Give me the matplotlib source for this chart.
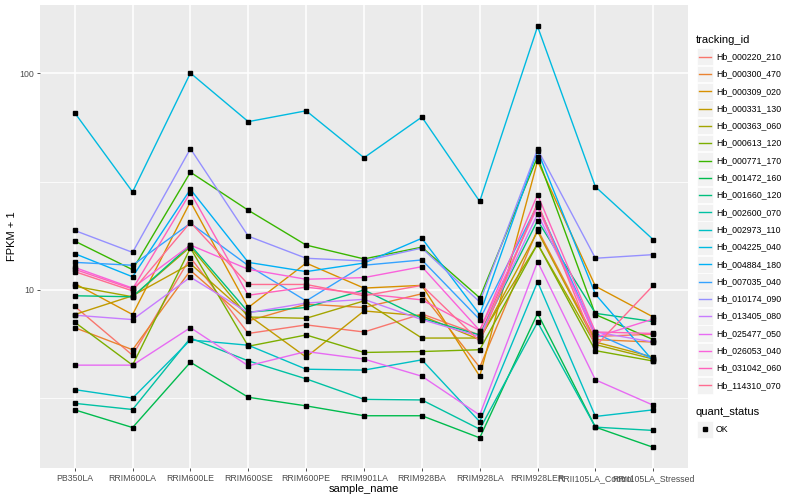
import matplotlib
matplotlib.use("Agg")
import matplotlib.pyplot as plt
from matplotlib.lines import Line2D
from matplotlib.patches import Rectangle
from matplotlib.ticker import FixedLocator, NullFormatter
import numpy as np

plt.rcParams['font.family'] = ['Liberation Sans', 'DejaVu Sans']

samples = ['PB350LA', 'RRIM600LA', 'RRIM600LE', 'RRIM600SE', 'RRIM600PE', 'RRIM901LA',
           'RRIM928BA', 'RRIM928LA', 'RRIM928LER', 'RRII105LA_Control', 'RRII105LA_Stressed']

tracking_ids = ['Hb_000220_210', 'Hb_000300_470', 'Hb_000309_020', 'Hb_000331_130',
                'Hb_000363_060', 'Hb_000613_120', 'Hb_000771_170', 'Hb_001472_160',
                'Hb_001660_120', 'Hb_002600_070', 'Hb_002973_110', 'Hb_004225_040',
                'Hb_004884_180', 'Hb_007035_040', 'Hb_010174_090', 'Hb_013405_080',
                'Hb_025477_050', 'Hb_026053_040', 'Hb_031042_060', 'Hb_114310_070']

# ggplot default hue palette for 20 levels
colours = ['#F8766D', '#EA8331', '#D89000', '#C09B00', '#A3A500', '#7CAE00', '#39B600',
           '#00BB4E', '#00BF7D', '#00C1A3', '#00BFC4', '#00BAE0', '#00B0F6', '#35A2FF',
           '#9590FF', '#C77CFF', '#E76BF3', '#FA62DB', '#FF62BC', '#FF6C91']

# FPKM + 1 per gene, one value per sample
hb_000220_210 = [8.4, 5.0, 14.1, 6.3, 6.9, 6.4, 7.75, 6.2, 24.7, 6.1, 6.25]
hb_000300_470 = [6.7, 5.3, 12.3, 7.2, 8.6, 8.3, 9.6, 4.4, 19.0, 5.9, 5.75]
hb_000309_020 = [10.7, 7.7, 25.5, 8.3, 13.3, 10.2, 10.5, 4.0, 39.3, 10.4, 7.5]
hb_000331_130 = [7.7, 9.4, 13.2, 7.65, 4.9, 8.0, 7.6, 5.9, 18.6, 5.75, 4.9]
hb_000363_060 = [10.4, 9.3, 15.8, 7.5, 7.4, 8.9, 6.0, 6.0, 16.3, 5.6, 4.8]
hb_000613_120 = [7.1, 4.5, 15.6, 5.5, 6.2, 5.15, 5.2, 5.3, 16.3, 5.25, 4.7]
hb_000771_170 = [16.8, 12.4, 34.9, 23.3, 16.1, 13.9, 15.75, 9.2, 41.1, 7.7, 5.9]
hb_001472_160 = [2.8, 2.32, 4.64, 3.2, 2.92, 2.63, 2.63, 2.08, 7.8, 2.33, 1.88]
hb_001660_120 = [9.4, 9.3, 16.1, 7.9, 8.3, 10.0, 7.4, 6.2, 20.9, 7.8, 7.15]
hb_002600_070 = [3.0, 2.81, 6.0, 4.71, 3.89, 3.13, 3.11, 2.28, 7.1, 2.33, 2.25]
hb_002973_110 = [3.47, 3.17, 5.88, 5.56, 4.31, 4.27, 4.76, 2.47, 10.9, 2.61, 2.8]
hb_004225_040 = [65.6, 28.3, 100, 59.7, 67, 40.7, 62.7, 25.6, 164, 29.9, 17.05]
hb_004884_180 = [14.7, 11.5, 29.1, 13.4, 12.15, 13.3, 17.3, 7.7, 43.9, 9.55, 4.7]
hb_007035_040 = [13.4, 13.0, 20.3, 12.95, 8.9, 13.0, 13.75, 7.3, 24.7, 6.3, 4.8]
hb_010174_090 = [18.8, 14.9, 44.8, 17.7, 14.0, 13.6, 15.6, 8.8, 44.5, 14.0, 14.55]
hb_013405_080 = [7.65, 7.3, 11.45, 7.85, 8.7, 9.05, 7.3, 6.1, 22.4, 6.4, 5.75]
hb_025477_050 = [4.5, 4.5, 6.7, 4.47, 5.2, 4.8, 4.0, 2.65, 13.5, 3.85, 2.94]
hb_026053_040 = [12.7, 10.2, 16.1, 12.45, 11.2, 11.4, 12.8, 6.5, 24.1, 6.05, 7.35]
hb_031042_060 = [12.45, 10.1, 28.1, 9.45, 10.3, 9.6, 9.0, 6.5, 27.5, 6.4, 6.3]
hb_114310_070 = [12.15, 9.9, 20.5, 10.6, 10.6, 9.4, 10.5, 5.8, 25.2, 5.5, 10.5]

series = [hb_000220_210, hb_000300_470, hb_000309_020, hb_000331_130, hb_000363_060,
          hb_000613_120, hb_000771_170, hb_001472_160, hb_001660_120, hb_002600_070,
          hb_002973_110, hb_004225_040, hb_004884_180, hb_007035_040, hb_010174_090,
          hb_013405_080, hb_025477_050, hb_026053_040, hb_031042_060, hb_114310_070]

W, H = 800, 500
fig = plt.figure(figsize=(8, 5), dpi=100)
ax = fig.add_axes([40 / W, 32 / H, 648 / W, 463 / H])
ax.set_facecolor('#EBEBEB')

x = np.arange(len(samples))
for vals, col in zip(series, colours):
    ax.plot(x, vals, color=col, lw=1.0, zorder=3)
for vals in series:
    ax.plot(x, vals, 's', color='black', ms=2.4, zorder=4)

ax.set_yscale('log')
ax.set_ylim(1.51, 206)
ax.set_xlim(-0.6, len(samples) - 0.4)
ax.set_yticks([10, 100])
ax.set_yticklabels(['10', '100'])
ax.yaxis.set_minor_locator(FixedLocator([10 ** 0.5, 10 ** 1.5]))
ax.yaxis.set_minor_formatter(NullFormatter())
ax.set_xticks(x)
ax.set_xticklabels(samples)

ax.grid(which='major', color='white', lw=1.1)
ax.grid(which='minor', axis='y', color='white', lw=0.55)
ax.set_axisbelow(True)
ax.tick_params(which='minor', length=0)
ax.tick_params(which='major', length=2.5, width=0.6, color='#333333',
               labelsize=6.3, labelcolor='#4D4D4D', pad=2)
for s in ax.spines.values():
    s.set_visible(False)

fig.text(364 / W, 1 - 489 / H, 'sample_name', fontsize=8, ha='center', va='center')
fig.text(12 / W, 1 - 236 / H, 'FPKM + 1', fontsize=8, ha='center', va='center', rotation=90)

# legend: tracking_id
fig.text(696 / W, 1 - 40 / H, 'tracking_id', fontsize=8, va='center')
for i, (name, col) in enumerate(zip(tracking_ids, colours)):
    yc = 56.7 + i * 17.3
    fig.add_artist(Rectangle((697 / W, 1 - (yc + 8.3) / H), 16 / W, 16.6 / H,
                             transform=fig.transFigure, facecolor='#F2F2F2', edgecolor='white', lw=0.5))
    fig.add_artist(Line2D([699 / W, 711 / W], [1 - yc / H, 1 - yc / H], color=col, lw=1.0))
    fig.text(716 / W, 1 - yc / H, name, fontsize=6.3, va='center')

# legend: quant_status
fig.text(696 / W, 1 - 412 / H, 'quant_status', fontsize=8, va='center')
fig.add_artist(Rectangle((697 / W, 1 - (429.3 + 8.3) / H), 16 / W, 16.6 / H,
                         transform=fig.transFigure, facecolor='#F2F2F2', edgecolor='white', lw=0.5))
fig.add_artist(Line2D([705 / W], [1 - 429.3 / H], marker='s', color='black', ms=2.4, lw=0))
fig.text(716 / W, 1 - 429.3 / H, 'OK', fontsize=6.3, va='center')

fig.savefig('out.png', dpi=100)
